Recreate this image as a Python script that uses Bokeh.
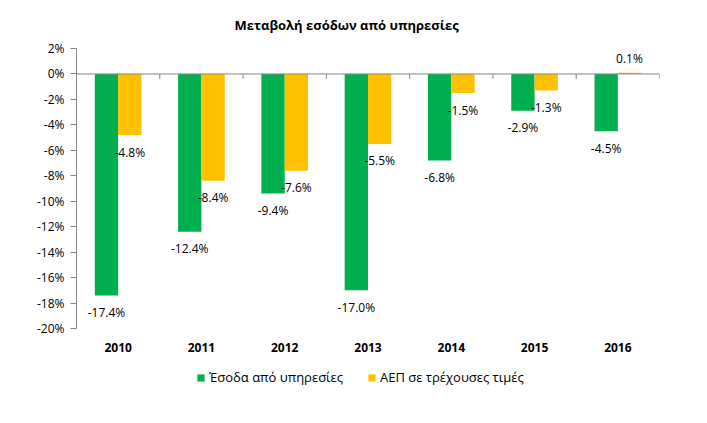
from bokeh.plotting import figure
from bokeh.models import (Range1d, ColumnDataSource, FixedTicker, Legend, LegendItem,
                          LabelSet, Span)
from bokeh.embed import file_html
from bokeh.resources import INLINE
from bokeh.core.properties import value

title_text = "Μεταβολή εσόδων από υπηρεσίες"
years = ["2010", "2011", "2012", "2013", "2014", "2015", "2016"]
revenue = [-17.4, -12.4, -9.4, -17.0, -6.8, -2.9, -4.5]
gdp = [-4.8, -8.4, -7.6, -5.5, -1.5, -1.3, 0.1]
series_names = ["Έσοδα από υπηρεσίες", "ΑΕΠ σε τρέχουσες τιμές"]
y_ticks = list(range(-20, 3, 2))
y_tick_labels = [f"{t}%" for t in y_ticks]

GREEN = "#00B050"
ORANGE = "#FFC000"
AXIS_COL = "#868686"
FONT = "Open Sans"

n = len(years)
xc = [i + 0.5 for i in range(n)]
bw = 0.28
off = 0.14
ymin, ymax = y_ticks[0], y_ticks[-1]
px_per_unit = 280 / (ymax - ymin)
y_start = ymin - 72 / px_per_unit   # extra room below for category labels and legend

src = ColumnDataSource(dict(
    xg=[x - off for x in xc], xo=[x + off for x in xc],
    rev=revenue, gdp=gdp,
    rev_lab=[f"{v:.1f}%" for v in revenue],
    gdp_lab=[f"{v:.1f}%" for v in gdp],
    rev_off=[-17 if v < 0 else 14 for v in revenue],
    gdp_off=[-17 if v < 0 else 14 for v in gdp],
))
cat_src = ColumnDataSource(dict(x=xc, y=[ymin] * n, t=years))

p = figure(width=691, height=407, output_backend="svg", toolbar_location=None,
           x_range=Range1d(0, n), y_range=Range1d(y_start, ymax),
           min_border_left=76, min_border_right=32, min_border_top=48, min_border_bottom=7)
p.outline_line_color = None
p.xgrid.visible = False
p.ygrid.visible = False
p.background_fill_color = None
p.border_fill_color = "white"

p.title.text = title_text
p.title.align = "left"
p.title.offset = 158
p.title.text_font = FONT
p.title.text_font_size = "13px"
p.title.text_font_style = "bold"
p.title.text_color = "#000000"
p.title.vertical_align = "top"
p.title.standoff = 26

rg = p.vbar(x="xg", top="rev", bottom=0, width=bw, source=src, fill_color=GREEN, line_color=None)
ro = p.vbar(x="xo", top="gdp", bottom=0, width=bw, source=src, fill_color=ORANGE, line_color=None)

for xcol, ycol, lcol, ocol in [("xg", "rev", "rev_lab", "rev_off"), ("xo", "gdp", "gdp_lab", "gdp_off")]:
    ls = LabelSet(x=xcol, y=ycol, text=lcol, y_offset=ocol, source=src,
                  text_align="center", text_baseline="middle",
                  text_font=value(FONT), text_font_size="12px", text_color="#000000")
    p.add_layout(ls)

# category labels
p.add_layout(LabelSet(x="x", y="y", text="t", y_offset=-19, source=cat_src,
                      text_align="center", text_baseline="middle",
                      text_font=value(FONT), text_font_size="12px", text_font_style="bold",
                      text_color="#000000"))

# zero line with category boundary ticks
p.add_layout(Span(location=0, dimension="width", line_color=AXIS_COL, line_width=1))
p.segment(x0=list(range(1, n + 1)), x1=list(range(1, n + 1)), y0=[0] * n, y1=[-0.4] * n,
          line_color=AXIS_COL, line_width=1)

# axes
p.xaxis.visible = False
p.yaxis.ticker = FixedTicker(ticks=y_ticks)
p.yaxis.bounds = (ymin, ymax)
p.yaxis.major_label_overrides = {t: l for t, l in zip(y_ticks, y_tick_labels)}
p.yaxis.axis_line_color = AXIS_COL
p.yaxis.major_tick_line_color = AXIS_COL
p.yaxis.major_tick_out = 6
p.yaxis.major_tick_in = 0
p.yaxis.minor_tick_line_color = None
p.yaxis.major_label_text_font = FONT
p.yaxis.major_label_text_font_size = "12px"
p.yaxis.major_label_text_color = "#000000"
p.yaxis.major_label_standoff = 6

legend = Legend(items=[LegendItem(label=series_names[0], renderers=[rg]),
                       LegendItem(label=series_names[1], renderers=[ro])],
                orientation="horizontal", location=(120, 14),
                glyph_width=9, glyph_height=9, spacing=24, label_standoff=4,
                label_text_font=FONT, label_text_font_size="13px", label_text_color="#000000",
                border_line_color=None, background_fill_alpha=0, padding=4, margin=0)
p.add_layout(legend, "center")

open("out.html", "w").write(file_html(p, INLINE))
